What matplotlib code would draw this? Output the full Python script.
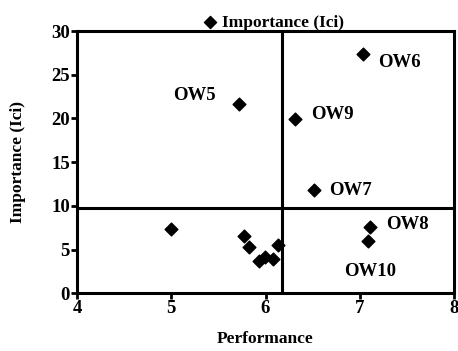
import matplotlib
matplotlib.use("Agg")
import matplotlib.pyplot as plt

performance = [5.72, 7.03, 6.31, 6.51, 7.11, 7.09, 5.00, 5.77, 5.83, 5.93, 5.99, 6.08, 6.13]
importance = [21.7, 27.4, 19.9, 11.8, 7.6, 6.0, 7.4, 6.6, 5.3, 3.7, 4.2, 3.9, 5.5]
label_names = ["OW5", "OW6", "OW9", "OW7", "OW8", "OW10"]
label_x = [5.25, 7.19, 6.48, 6.68, 7.28, 6.83]
label_y = [22.6, 26.4, 20.4, 11.8, 7.9, 2.5]
label_ha = ["center", "left", "left", "left", "left", "left"]
mean_perf = 6.18
mean_imp = 9.73
xticks = [4, 5, 6, 7, 8]
yticks = [0, 5, 10, 15, 20, 25, 30]

plt.rcParams['font.family'] = ['Liberation Serif', 'DejaVu Serif']
plt.rcParams['font.weight'] = 'bold'

fig = plt.figure(figsize=(4.58, 3.51), dpi=100)
ax = fig.add_axes([77/458, 1-293.3/351, (454-77)/458, (293.3-31)/351])

ax.scatter(performance, importance, marker='D', s=42, color='black', zorder=3,
           label='Importance (Ici)')
ax.axhline(mean_imp, color='black', lw=2.2, zorder=2)
ax.axvline(mean_perf, color='black', lw=2.2, zorder=2)

for n, x, y, ha in zip(label_names, label_x, label_y, label_ha):
    ax.text(x, y, n, ha=ha, va='center', fontsize=13.5, fontweight='bold')

ax.set_xlim(4, 8)
ax.set_ylim(0, 30)
ax.set_xticks(xticks)
ax.set_yticks(yticks)
for s in ax.spines.values():
    s.set_linewidth(2.2)
ax.tick_params(width=2, length=4, labelsize=13.5, pad=1)
for lab in ax.get_xticklabels() + ax.get_yticklabels():
    lab.set_fontweight('bold')
ax.set_xlabel('Performance', fontsize=12.5, fontweight='bold', labelpad=10)
ax.set_ylabel('Importance (Ici)', fontsize=12.5, fontweight='bold', labelpad=18)

leg = ax.legend(loc='lower center', bbox_to_anchor=(0.522, 0.995), frameon=False,
                fontsize=12.5, handletextpad=0.3, handlelength=0.8, markerscale=0.95,
                borderaxespad=0, borderpad=0.1)

fig.savefig('out.png', dpi=100)
